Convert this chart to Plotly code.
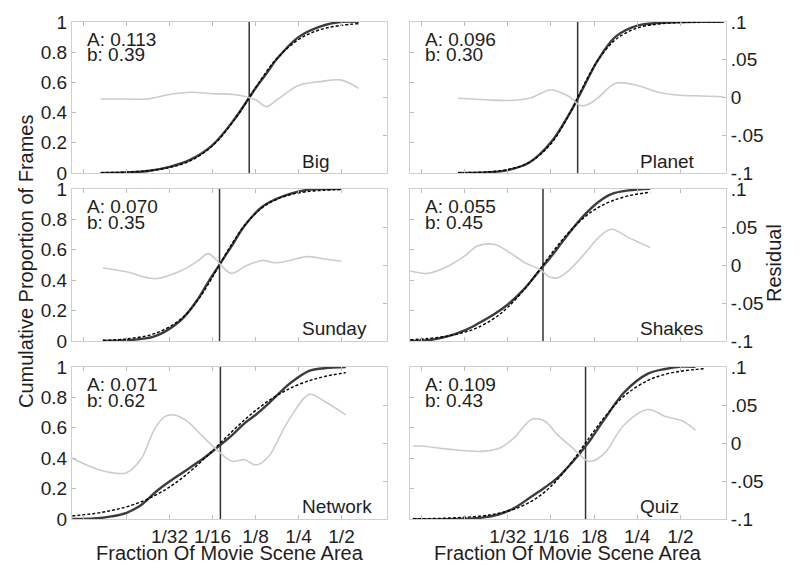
import math
import plotly.graph_objects as go

# ---------------- data ----------------
panel_names = ["Big", "Planet", "Sunday", "Shakes", "Network", "Quiz"]
A_values = [0.113, 0.096, 0.070, 0.055, 0.071, 0.109]
b_values = [0.39, 0.30, 0.35, 0.45, 0.62, 0.43]

# sample positions are log2(fraction of movie scene area)
big_log2 = [-6.6, -6.0, -5.5, -5.0, -4.5, -4.0, -3.5, -3.0, -2.75, -2.5, -2.0, -1.5, -1.0, -0.6]
big_fit = [0.002, 0.006, 0.015, 0.036, 0.083, 0.180, 0.348, 0.564, 0.669, 0.759, 0.884, 0.949, 0.978, 0.989]
big_resid = [-0.002, -0.002, -0.002, 0.004, 0.007, 0.005, 0.004, -0.003, -0.012, -0.003, 0.016, 0.021, 0.023, 0.012]

planet_log2 = [-6.15, -5.5, -5.0, -4.5, -4.0, -3.6, -3.3, -3.1, -2.9, -2.5, -2.0, -1.5, -1.0, -0.5, 0.0]
planet_fit = [0.002, 0.007, 0.023, 0.070, 0.193, 0.376, 0.547, 0.657, 0.752, 0.884, 0.960, 0.987, 0.996, 0.999, 1.0]
planet_resid = [-0.001, -0.003, -0.004, -0.001, 0.010, 0.002, -0.011, -0.008, 0.000, 0.019, 0.016, 0.007, 0.003, 0.002, 0.001]

sunday_log2 = [-6.55, -6.0, -5.35, -4.75, -4.35, -4.1, -3.9, -3.57, -3.25, -2.85, -2.55, -2.2, -1.8, -1.4, -1.0]
sunday_fit = [0.005, 0.014, 0.048, 0.141, 0.266, 0.373, 0.469, 0.629, 0.762, 0.876, 0.927, 0.962, 0.983, 0.992, 0.996]
sunday_resid = [-0.004, -0.009, -0.018, -0.008, 0.005, 0.015, 0.006, -0.011, -0.002, 0.006, 0.003, 0.006, 0.011, 0.008, 0.005]

shakes_log2 = [-7.26, -6.85, -6.4, -6.0, -5.7, -5.3, -5.0, -4.6, -4.25, -4.05, -3.85, -3.6, -3.2, -2.9, -2.6, -2.2, -1.7]
shakes_fit = [0.008, 0.016, 0.032, 0.058, 0.088, 0.152, 0.222, 0.345, 0.475, 0.552, 0.626, 0.711, 0.820, 0.879, 0.920, 0.955, 0.979]
shakes_resid = [-0.008, -0.011, -0.002, 0.012, 0.025, 0.027, 0.018, 0.003, -0.006, -0.015, -0.017, -0.008, 0.016, 0.036, 0.047, 0.036, 0.023]

network_log2 = [-7.26, -6.75, -6.35, -6.0, -5.65, -5.35, -5.1, -4.9, -4.6, -4.2, -3.9, -3.55, -3.25, -3.0, -2.7, -2.35, -2.15, -1.75, -1.4, -0.9]
network_fit = [0.020, 0.036, 0.056, 0.080, 0.114, 0.153, 0.192, 0.229, 0.294, 0.394, 0.477, 0.574, 0.653, 0.713, 0.777, 0.837, 0.866, 0.910, 0.937, 0.963]
network_resid = [-0.020, -0.033, -0.039, -0.039, -0.020, 0.018, 0.035, 0.037, 0.029, 0.007, -0.009, -0.024, -0.022, -0.029, -0.018, 0.018, 0.037, 0.064, 0.055, 0.037]

quiz_log2 = [-7.2, -7.0, -6.4, -5.6, -5.2, -4.85, -4.45, -4.15, -3.85, -3.45, -3.2, -3.05, -2.75, -2.3, -1.75, -1.35, -0.95, -0.65, -0.42]
quiz_fit = [0.002, 0.002, 0.006, 0.020, 0.038, 0.065, 0.117, 0.177, 0.259, 0.400, 0.500, 0.559, 0.673, 0.810, 0.912, 0.952, 0.974, 0.984, 0.989]
quiz_resid = [-0.004, -0.004, -0.008, -0.011, -0.007, 0.007, 0.031, 0.029, 0.011, -0.009, -0.022, -0.024, -0.013, 0.024, 0.044, 0.035, 0.029, 0.017, None]

x_tick_log2 = [-7, -6, -5, -4, -3, -2, -1]
x_tick_text = ["", "", "1/32", "1/16", "1/8", "1/4", "1/2"]
y_tick_vals = [0, 0.2, 0.4, 0.6, 0.8, 1]
y_tick_text = ["0", "0.2", "0.4", "0.6", "0.8", "1"]
r_tick_vals = [-0.1, -0.05, 0, 0.05, 0.1]
r_tick_text = ["-.1", "-.05", "0", ".05", ".1"]

series = [
    (big_log2, big_fit, big_resid),
    (planet_log2, planet_fit, planet_resid),
    (sunday_log2, sunday_fit, sunday_resid),
    (shakes_log2, shakes_fit, shakes_resid),
    (network_log2, network_fit, network_resid),
    (quiz_log2, quiz_fit, quiz_resid),
]

# ---------------- layout geometry (pixels) ----------------
W, H = 800, 579
col_px = [(72, 387), (410, 726)]
row_px = [(22, 173), (189, 341), (367, 519)]
X_RANGE_LOG2 = (-7.267, 0.058)

FONT = "Liberation Sans, Arial, sans-serif"
TXT = "#1e1e1e"
FRAME = "#cfcfcf"
TICKC = "#bdbdbd"

fig = go.Figure()
layout = dict(
    width=W, height=H,
    margin=dict(l=0, r=0, t=0, b=0, pad=0, autoexpand=False),
    paper_bgcolor="white", plot_bgcolor="white",
    showlegend=False,
    font=dict(family=FONT, size=19, color=TXT),
    annotations=[],
)

def px2paper(px, py):
    return px / W, 1 - py / H

for i, (lg, fit, res) in enumerate(series):
    r, c = divmod(i, 2)
    n = i + 1
    xa = "x" if n == 1 else f"x{n}"
    ya = "y" if n == 1 else f"y{n}"
    y2n = n + 6
    ya2 = f"y{y2n}"
    x0p, x1p = col_px[c]
    t0p, b0p = row_px[r]
    xdom = [x0p / W, x1p / W]
    ydom = [1 - b0p / H, 1 - t0p / H]

    xs = [2 ** v for v in lg]
    data = [None if e is None else f + e for f, e in zip(fit, res)]

    # residual (right axis)
    fig.add_trace(go.Scatter(x=xs, y=res, xaxis=xa, yaxis=ya2, mode="lines",
                             line=dict(color="#cccccc", width=1.6, shape="spline"),
                             connectgaps=False, hoverinfo="skip"))
    # vertical line at A
    fig.add_trace(go.Scatter(x=[A_values[i], A_values[i]], y=[0, 1], xaxis=xa, yaxis=ya,
                             mode="lines", line=dict(color="#333333", width=1.5),
                             hoverinfo="skip"))
    # empirical cumulative (solid)
    fig.add_trace(go.Scatter(x=xs, y=data, xaxis=xa, yaxis=ya, mode="lines",
                             line=dict(color="#3c3c3c", width=2.4, shape="spline"),
                             connectgaps=False, hoverinfo="skip"))
    # fitted curve (dashed)
    fig.add_trace(go.Scatter(x=xs, y=fit, xaxis=xa, yaxis=ya, mode="lines",
                             line=dict(color="#000000", width=1.4, dash="3px,2px", shape="spline"),
                             hoverinfo="skip"))

    xkey = "xaxis" if n == 1 else f"xaxis{n}"
    ykey = "yaxis" if n == 1 else f"yaxis{n}"
    y2key = f"yaxis{y2n}"
    common = dict(showgrid=False, zeroline=False, automargin=False,
                  ticks="inside", ticklen=4, tickcolor=TICKC,
                  showline=True, linecolor=FRAME, linewidth=1,
                  tickfont=dict(size=19, color=TXT, family=FONT))
    layout[xkey] = dict(
        domain=xdom, anchor=ya, type="log",
        range=[X_RANGE_LOG2[0] * math.log10(2), X_RANGE_LOG2[1] * math.log10(2)],
        tickmode="array", tickvals=[2 ** v for v in x_tick_log2], ticktext=x_tick_text,
        showticklabels=(r == 2), mirror="ticks", **common,
    )
    layout[ykey] = dict(
        domain=ydom, anchor=xa, range=[0, 1],
        tickmode="array", tickvals=y_tick_vals, ticktext=y_tick_text,
        showticklabels=(c == 0), **common,
    )
    layout[y2key] = dict(
        overlaying=ya, anchor=xa, side="right", range=[-0.1, 0.1],
        tickmode="array", tickvals=r_tick_vals, ticktext=r_tick_text,
        showticklabels=(c == 1), **common,
    )

    # panel texts
    ax_, ay_ = px2paper(x0p + 13, t0p + 17)
    layout["annotations"].append(dict(text=f"A: {A_values[i]:.3f}", x=ax_, y=ay_, xref="paper", yref="paper",
                                      xanchor="left", yanchor="middle", showarrow=False,
                                      font=dict(size=19, color=TXT, family=FONT)))
    bx_, by_ = px2paper(x0p + 13, t0p + 33)
    layout["annotations"].append(dict(text=f"b: {b_values[i]:.2f}", x=bx_, y=by_, xref="paper", yref="paper",
                                      xanchor="left", yanchor="middle", showarrow=False,
                                      font=dict(size=19, color=TXT, family=FONT)))
    nx_, ny_ = px2paper(x0p + 228, t0p + 139)
    layout["annotations"].append(dict(text=panel_names[i], x=nx_, y=ny_, xref="paper", yref="paper",
                                      xanchor="left", yanchor="middle", showarrow=False,
                                      font=dict(size=19, color=TXT, family=FONT)))

# axis titles
for txt, (px, py), ang in [
    ("Cumulative Proportion of Frames", (26, 262), -90),
    ("Residual", (774, 263), -90),
    ("Fraction Of Movie Scene Area", (229.5, 553), 0),
    ("Fraction Of Movie Scene Area", (568, 553), 0),
]:
    xx, yy = px2paper(px, py)
    layout["annotations"].append(dict(text=txt, x=xx, y=yy, xref="paper", yref="paper",
                                      xanchor="center", yanchor="middle", textangle=ang,
                                      showarrow=False, font=dict(size=20, color=TXT, family=FONT)))

fig.update_layout(**layout)
fig.write_html("out.html",
               config={"displayModeBar": False},
               post_script="document.body.style.margin='0px';document.body.style.overflow='hidden';")
